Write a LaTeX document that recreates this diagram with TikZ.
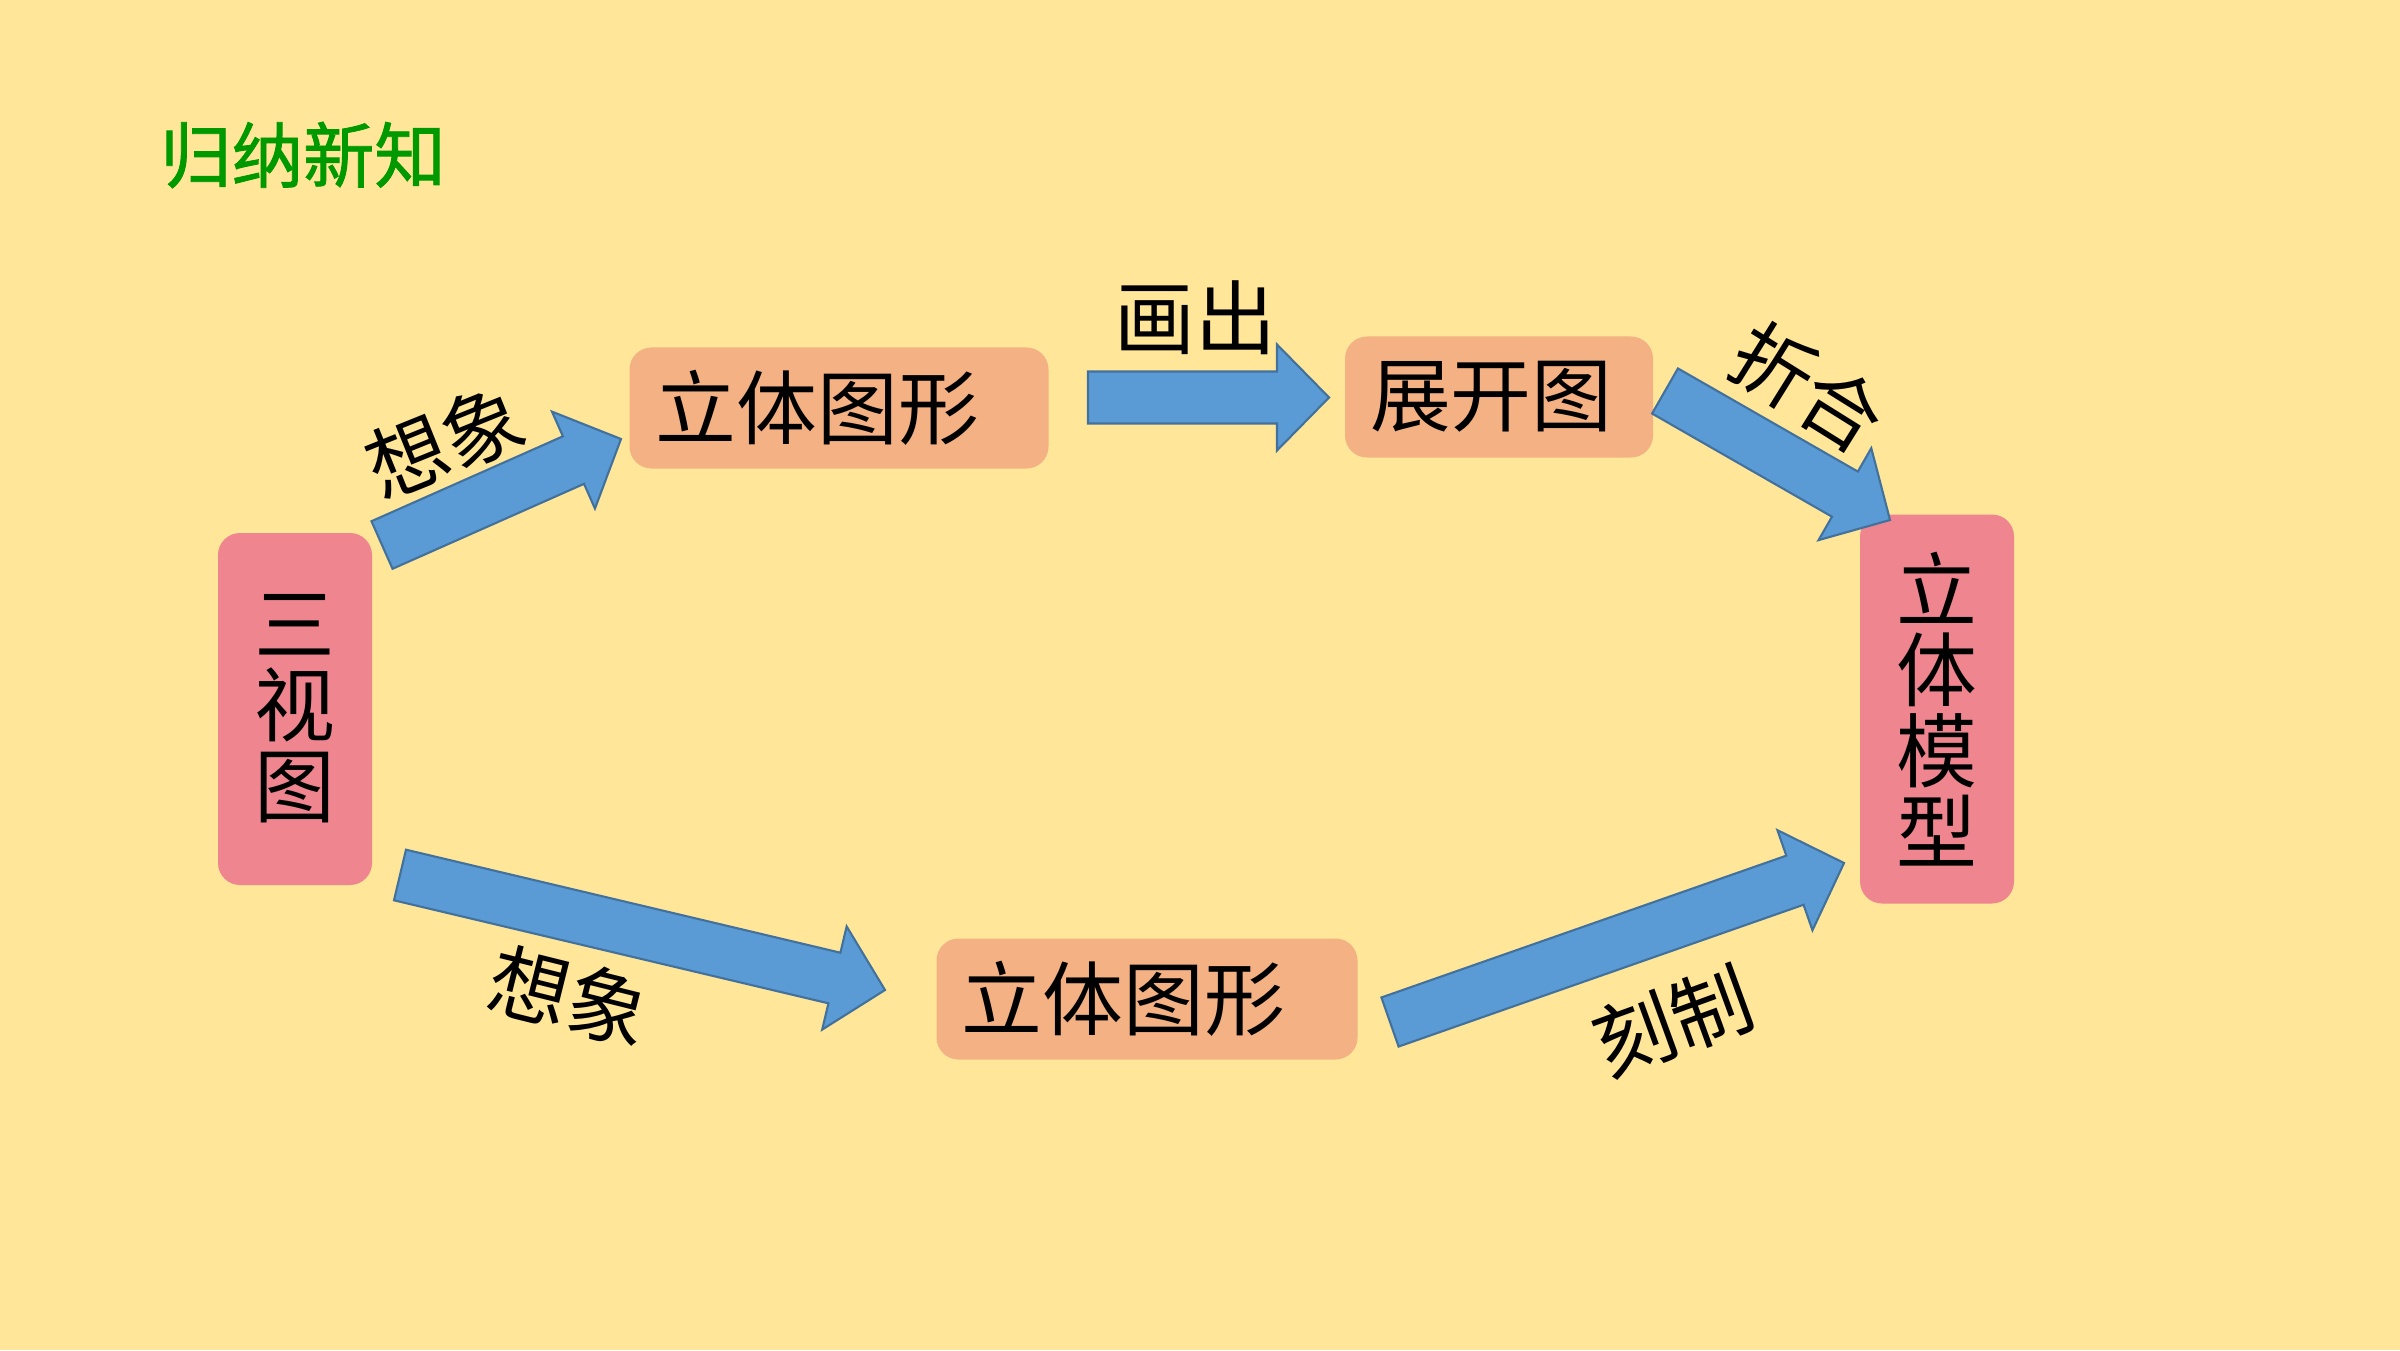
\documentclass[tikz,border=0pt]{standalone}
\usepackage{fontspec}
\setmainfont{Noto Sans CJK SC}
\newfontfamily\titlefont[FakeBold=1.2]{Noto Sans CJK SC}
\usepackage{tikz}
\usetikzlibrary{calc,positioning}

\definecolor{bgyellow}{HTML}{FFE699}
\definecolor{boxorange}{HTML}{F4B183}
\definecolor{boxpink}{HTML}{EE858F}
\definecolor{arrowblue}{HTML}{5B9BD5}
\definecolor{arrowline}{HTML}{41719C}
\definecolor{titlegreen}{HTML}{009900}

% block arrow from tail mid #1 to tip #2
\newcommand{\blockarrow}[2]{%
	\coordinate (hb) at ($(#2)!0.52cm!(#1)$);
	\filldraw[barrow] ($(#1)!0.26cm!90:(#2)$) -- ($(hb)!0.26cm!-90:(#1)$) -- ($(hb)!0.53cm!-90:(#1)$) -- (#2)
		-- ($(hb)!0.53cm!90:(#1)$) -- ($(hb)!0.26cm!90:(#1)$) -- ($(#1)!0.26cm!-90:(#2)$) -- cycle;
}

\begin{document}
\begin{tikzpicture}[font=\fontsize{23pt}{23pt}\selectfont]
	\tikzstyle{box}=[rectangle, rounded corners=0.22cm, inner sep=0pt, minimum height=1.21cm, fill=boxorange]
	\tikzstyle{vbox}=[box, fill=boxpink, align=center, minimum width=1.54cm]
	\tikzstyle{barrow}=[fill=arrowblue, draw=arrowline, line width=0.6pt, line join=miter]
	\tikzstyle{lbl}=[inner sep=0pt]

	\fill[bgyellow] (0,0) rectangle (24,13.5);
	\useasboundingbox (0,0) rectangle (24,13.5);

	\node[lbl, text=titlegreen, font=\fontsize{20.3pt}{21pt}\titlefont] (title) at (3.03,11.95) {归纳新知};

	\node[vbox, minimum height=3.52cm] (sanshi) at (2.95,6.41) {三\\视\\图};
	\node[box, minimum width=4.19cm, text width=3.67cm, inner xsep=0.26cm, align=left] (liti1) at (8.39,9.42) {立体图形};
	\node[box, minimum width=3.08cm, text width=2.58cm, inner xsep=0.25cm, align=left] (zhankai) at (14.99,9.53) {展开图};
	\node[vbox, minimum height=3.89cm] (moxing) at (19.37,6.41) {立\\体\\模\\型};
	\node[box, minimum width=4.21cm, text width=3.71cm, inner xsep=0.25cm, align=left] (liti2) at (11.47,3.51) {立体图形};

	\coordinate (a1s) at (3.82,8.05);  \coordinate (a1e) at (6.21,9.11);
	\coordinate (a2s) at (10.88,9.525); \coordinate (a2e) at (13.29,9.525);
	\coordinate (a3s) at (16.65,9.59); \coordinate (a3e) at (18.90,8.30);
	\coordinate (a4s) at (4.00,4.75);  \coordinate (a4e) at (8.85,3.60);
	\coordinate (a5s) at (13.90,3.28); \coordinate (a5e) at (18.44,4.87);

	\blockarrow{a1s}{a1e}
	\blockarrow{a2s}{a2e}
	\blockarrow{a3s}{a3e}
	\blockarrow{a4s}{a4e}
	\blockarrow{a5s}{a5e}

	\node[lbl, rotate=22] (xiang1) at (4.45,9.09) {想象};
	\node[lbl] (huachu) at (11.95,10.32) {画出};
	\node[lbl, rotate=-32] (zhehe) at (18.08,9.63) {折合};
	\node[lbl, rotate=-14] (xiang2) at (5.69,3.54) {想象};
	\node[lbl, rotate=20] (kezhi) at (16.73,3.29) {刻制};

\end{tikzpicture}
\end{document}
